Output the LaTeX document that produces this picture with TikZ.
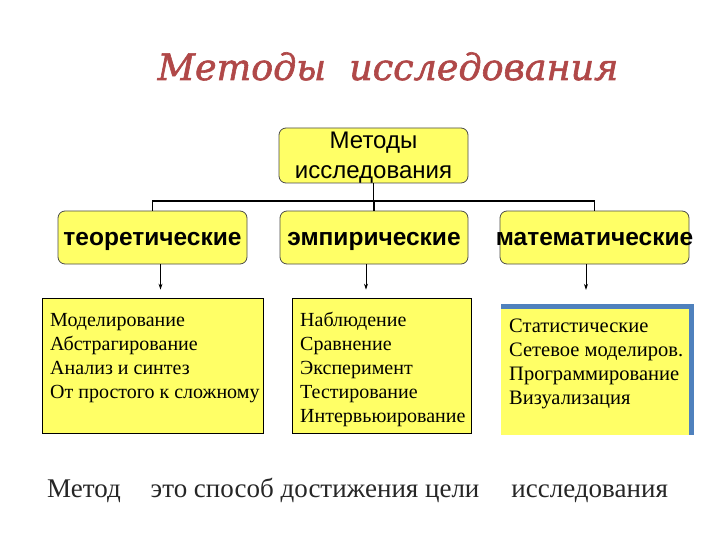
\documentclass[tikz,border=0pt]{standalone}
\usepackage{fontspec}
\setmainfont{Liberation Serif}
\newfontfamily\arialf{Liberation Sans}
\newfontfamily\titlef[FakeBold=1.6]{DejaVu Serif}
\usetikzlibrary{arrows.meta}
\definecolor{boxyellow}{RGB}{255,255,102}
\definecolor{titlered}{RGB}{176,72,72}
\definecolor{bandblue}{RGB}{79,129,189}
\begin{document}
\begin{tikzpicture}[x=1pt,y=-1pt,
  roundbox/.style={draw=black!70, line width=0.8pt, fill=boxyellow, rounded corners=7pt, inner sep=0pt},
  listbox/.style={draw=black, line width=0.8pt, fill=boxyellow, inner sep=0pt},
  tree/.style={line width=1.7pt},
  arr/.style={line width=0.8pt, -{Stealth[length=6pt,width=4pt]}},
  listtext/.style={font=\fontsize{20}{24}\selectfont, align=left, anchor=north west, inner sep=0pt},
  headtext/.style={font=\arialf\bfseries\fontsize{24.5}{28}\selectfont, text height=18pt, text depth=3pt}
]
\useasboundingbox[fill=white] (0,0) rectangle (720,540);

\node[font=\titlef\itshape\fontsize{36.5}{40}\selectfont, text=titlered, anchor=base] (title) at (388,80) {Методы\ \ исследования};

\node[roundbox, minimum width=189pt, minimum height=55pt] (top) at (373.5,155.5) {};
\node[align=center, font=\arialf\fontsize{24}{30}\selectfont, anchor=base, inner sep=0pt] (toptext) at (373.5,179) {Методы\\исследования};

\node[roundbox, minimum width=189pt, minimum height=53pt, headtext] (b1) at (152.5,237.5) {теоретические};
\node[roundbox, minimum width=188pt, minimum height=53pt, headtext] (b2) at (374,237.5) {эмпирические};
\node[roundbox, minimum width=189pt, minimum height=53pt, headtext] (b3) at (594.5,237.5) {\makebox[0pt]{математические}};

\coordinate (bus) at (0,201);
\draw[tree] (top.south) -- (top.south |- bus);
\draw[tree] (b1.north) -- (b1.north |- bus) -- (b3.north |- bus) -- (b3.north);
\draw[tree] (b2.north) -- (b2.north |- bus);

\node[listbox, minimum width=221pt, minimum height=135pt] (L) at (152.5,365.5) {};
\node[listbox, minimum width=179pt, minimum height=135pt] (M) at (381.5,365.5) {};
\node[fill=boxyellow, inner sep=0pt, minimum width=188pt, minimum height=126pt] (R) at (595,372) {};
\fill[bandblue] ([yshift=5pt]R.north west) rectangle ([xshift=5pt]R.north east);
\fill[bandblue] (R.north east) rectangle ([xshift=5pt]R.south east);

\draw[arr, shorten >=8pt] ([xshift=8pt]b1.south) -- ([xshift=8pt]b1.south |- L.north);
\draw[arr, shorten >=8pt] ([xshift=-8pt]b2.south) -- ([xshift=-8pt]b2.south |- M.north);
\draw[arr, shorten >=19pt] ([xshift=-8.5pt]b3.south) -- ([xshift=-8.5pt]b3.south |- R.north);

\node[listtext] (tl) at (50,313) {Моделирование\\Абстрагирование\\Анализ и синтез\\От простого к сложному};
\node[listtext] (tm) at (300,312) {Наблюдение\\Сравнение\\Эксперимент\\Тестирование\\Интервьюирование};
\node[listtext, font=\fontsize{20.5}{24}\selectfont] (tr) at (509,319) {Статистические\\Сетевое моделиров.\\Программирование\\Визуализация};

\node[anchor=base west, font=\fontsize{27}{30}\selectfont, text=black!85, inner sep=0pt] (def) at (47,497) {Метод\hspace{30pt}это способ достижения цели\hspace{32pt}исследования};
\end{tikzpicture}
\end{document}
